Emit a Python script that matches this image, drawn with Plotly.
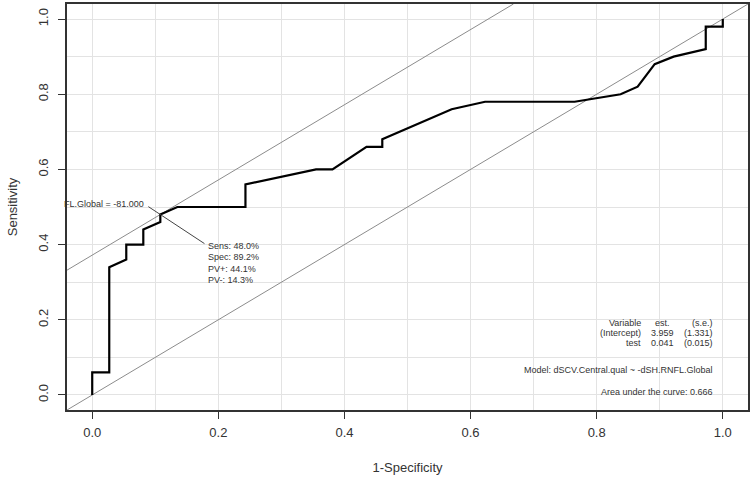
import plotly.graph_objects as go

# ROC curve points (1-Specificity, Sensitivity)
fpr = [0.0, 0.0, 0.027, 0.027, 0.054, 0.054, 0.081, 0.081, 0.108, 0.108, 0.135,
       0.243, 0.243, 0.355, 0.381, 0.435, 0.460, 0.460, 0.570, 0.623, 0.765,
       0.838, 0.865, 0.892, 0.922, 0.973, 0.973, 1.0, 1.0]
sens = [0.0, 0.06, 0.06, 0.34, 0.36, 0.40, 0.40, 0.44, 0.46, 0.48, 0.50,
        0.50, 0.56, 0.60, 0.60, 0.66, 0.66, 0.68, 0.76, 0.78, 0.78,
        0.80, 0.82, 0.88, 0.90, 0.92, 0.98, 0.98, 1.0]

opt_fpr, opt_sens = 0.108, 0.48
opt_label = "FL.Global = -81.000"
opt_stats = ["Sens: 48.0%", "Spec: 89.2%", "PV+: 44.1%", "PV-: 14.3%"]

table_col1 = ["Variable", "(Intercept)", "test"]
table_col2 = ["est.", "3.959", "0.041"]
table_col3 = ["(s.e.)", "(1.331)", "(0.015)"]
model_text = "Model: dSCV.Central.qual ~ -dSH.RNFL.Global"
auc_text = "Area under the curve: 0.666"

tick_vals = [0.0, 0.2, 0.4, 0.6, 0.8, 1.0]
tick_text = ["0.0", "0.2", "0.4", "0.6", "0.8", "1.0"]

lo, hi = -0.04, 1.04
FONT = "Liberation Sans, Arial, sans-serif"
TXT = "#333333"

fig = go.Figure()

# diagonal y = x
fig.add_trace(go.Scatter(x=[lo, hi], y=[lo, hi], mode="lines",
                         line=dict(color="#8c8c8c", width=1), hoverinfo="skip"))
# tangent line through optimal point
c = opt_sens - opt_fpr
fig.add_trace(go.Scatter(x=[lo, hi - c], y=[lo + c, hi], mode="lines",
                         line=dict(color="#8c8c8c", width=1), hoverinfo="skip"))
# ROC curve
fig.add_trace(go.Scatter(x=fpr, y=sens, mode="lines",
                         line=dict(color="black", width=2.2)))

# leader line through optimal point
lx0, ly0 = 0.089, 0.501
lx1 = 0.178
slope = (opt_sens - ly0) / (opt_fpr - lx0)
fig.add_trace(go.Scatter(x=[lx0, lx1], y=[ly0, ly0 + slope * (lx1 - lx0)], mode="lines",
                         line=dict(color="#444444", width=1), hoverinfo="skip"))

annots = []
annots.append(dict(x=0.0855, y=0.508, text=opt_label, xanchor="right", yanchor="middle"))
for i, s in enumerate(opt_stats):
    annots.append(dict(x=0.1805, y=0.396 - i * 0.0303, text=s, xanchor="left", yanchor="middle"))

row_y = [0.192, 0.164, 0.137]
for i in range(3):
    annots.append(dict(x=0.873, y=row_y[i], text=table_col1[i], xanchor="right", yanchor="middle"))
    annots.append(dict(x=0.926 if i else 0.919, y=row_y[i], text=table_col2[i], xanchor="right", yanchor="middle"))
    annots.append(dict(x=0.987, y=row_y[i], text=table_col3[i], xanchor="right", yanchor="middle"))
annots.append(dict(x=0.987, y=0.066, text=model_text, xanchor="right", yanchor="middle"))
annots.append(dict(x=0.987, y=0.009, text=auc_text, xanchor="right", yanchor="middle"))

for a in annots:
    a.update(xref="x", yref="y", showarrow=False,
             font=dict(family=FONT, size=9, color=TXT))

axis_common = dict(
    range=[lo, hi], tickvals=tick_vals, ticktext=tick_text,
    ticks="outside", ticklen=7, tickcolor="#333333", tickwidth=1,
    showline=True, mirror=True, linecolor="#333333", linewidth=1.5,
    showgrid=True, gridcolor="#e3e3e3", gridwidth=1,
    minor=dict(dtick=0.1, tick0=0, showgrid=True, gridcolor="#e3e3e3", ticks=""),
    zeroline=False, tickfont=dict(family=FONT, size=13, color=TXT),
    title_font=dict(family=FONT, size=13, color=TXT),
    automargin=False,
)

fig.update_layout(
    width=753, height=482,
    margin=dict(l=67, r=5, t=4, b=72),
    plot_bgcolor="white", paper_bgcolor="white",
    showlegend=False,
    annotations=annots,
    xaxis=dict(axis_common, ticklabelstandoff=3, title=dict(text="1-Specificity", standoff=24)),
    yaxis=dict(axis_common, tickangle=-90, ticklabelstandoff=5,
               title=dict(text="Sensitivity", standoff=15)),
)

fig.write_html("out.html", config={"displayModeBar": False},
               post_script="document.body.style.margin='0px';")
